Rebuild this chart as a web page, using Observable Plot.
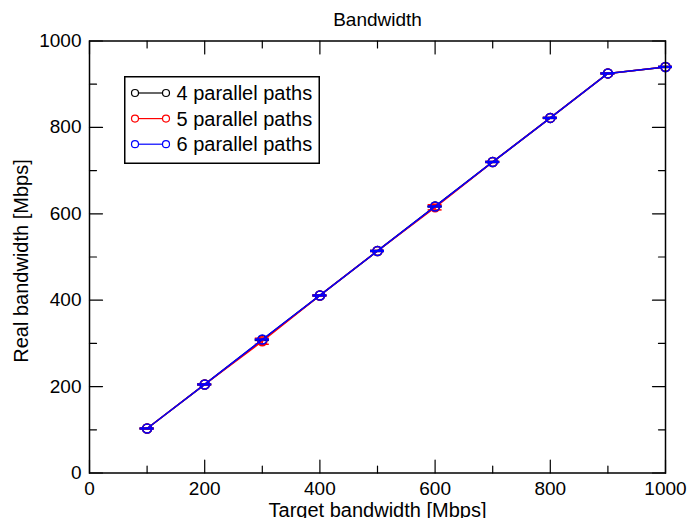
<!DOCTYPE html>
<html><head><meta charset="utf-8">
<script src="https://cdn.jsdelivr.net/npm/d3@7"></script>
<script src="https://cdn.jsdelivr.net/npm/@observablehq/plot@0.6"></script>
<style>
body{margin:0;background:#fff;}
#wrap{position:relative;width:690px;height:518px;overflow:hidden;font-family:"Liberation Sans",Arial,sans-serif;}
#legend{position:absolute;left:124px;top:76px;}
</style></head><body>
<div id="wrap"><div id="chart"></div><svg id="legend" width="196" height="88"></svg></div>
<script>
const targets = [100, 200, 300, 400, 500, 600, 700, 800, 900, 1000];
const seriesNames = ["4 parallel paths", "5 parallel paths", "6 parallel paths"];
const seriesColors = ["#000000", "#ff0000", "#0000ff"];
const real4 = [103, 205, 308, 411, 514, 617, 720, 822, 925, 940];
const err4  = [1, 1, 1, 1, 1, 1, 1, 1, 1, 1];
const real5 = [103, 205, 305, 411, 514, 615, 720, 822, 925, 940];
const err5  = [1, 1, 7, 1, 1, 6, 1, 1, 1, 1];
const real6 = [103, 205, 309, 411, 514, 617, 720, 822, 925, 940];
const err6  = [1, 1, 1, 1, 1, 1, 1, 1, 1, 1];
const xMajor = [0, 200, 400, 600, 800, 1000];
const xMinor = [100, 300, 500, 700, 900];
const yMajor = [0, 200, 400, 600, 800, 1000];
const yMinor = [100, 300, 500, 700, 900];
const title = "Bandwidth";
const xLabel = "Target bandwidth [Mbps]";
const yLabel = "Real bandwidth [Mbps]";

const allReal = [real4, real5, real6];
const allErr = [err4, err5, err6];
const data = seriesNames.map((s, k) => targets.map((x, i) => ({series: s, color: seriesColors[k], x, y: allReal[k][i], e: allErr[k][i]})));

const tickShape = {draw(ctx, l) { ctx.moveTo(0, 0); ctx.lineTo(0, -l); }};
function ticks(arr, axis, anchor, rot, len) {
  const o = {frameAnchor: anchor, rotate: rot, length: len, anchor: "start", shape: tickShape, stroke: "#000", strokeWidth: 1.2};
  if (axis === "x") o.x = d => d; else o.y = d => d;
  return Plot.vector(arr, o);
}

const marks = [];
data.forEach(ser => {
  const c = ser[0].color;
  marks.push(Plot.line(ser, {x: "x", y: "y", stroke: c, strokeWidth: 1.5}));
  marks.push(Plot.ruleX(ser, {x: "x", y1: d => d.y - d.e, y2: d => d.y + d.e, stroke: c, strokeWidth: 1.5}));
  marks.push(Plot.ruleY(ser, {y: d => d.y - d.e, x1: "x", x2: "x", insetLeft: -7, insetRight: -7, stroke: c, strokeWidth: 1.5}));
  marks.push(Plot.ruleY(ser, {y: d => d.y + d.e, x1: "x", x2: "x", insetLeft: -7, insetRight: -7, stroke: c, strokeWidth: 1.5}));
  marks.push(Plot.dot(ser, {x: "x", y: "y", r: 4.5, stroke: c, strokeWidth: 1.5, fill: "none"}));
});

const chart = Plot.plot({
  width: 690, height: 518,
  marginLeft: 89, marginRight: 25, marginTop: 40.5, marginBottom: 45.5,
  style: {fontFamily: "Liberation Sans, Arial, sans-serif", fontSize: "19px", color: "#000", background: "#fff"},
  x: {domain: [0, 1000]},
  y: {domain: [0, 1000]},
  marks: [
    ticks(xMajor, "x", "bottom", 0, 13), ticks(xMinor, "x", "bottom", 0, 7),
    ticks(xMajor, "x", "top", 180, 13), ticks(xMinor, "x", "top", 180, 7),
    ticks(yMajor, "y", "left", 90, 13), ticks(yMinor, "y", "left", 90, 7),
    ticks(yMajor, "y", "right", -90, 13), ticks(yMinor, "y", "right", -90, 7),
    Plot.axisX({ticks: xMajor, tickSize: 0, tickPadding: 8, label: null, tickFormat: d => String(d)}),
    Plot.axisY({ticks: yMajor, tickSize: 0, tickPadding: 8, label: null, tickFormat: d => String(d)}),
    ...marks,
    Plot.frame({stroke: "#000", strokeWidth: 1.5}),
    Plot.text([title], {frameAnchor: "top", text: d => d, textAnchor: "middle", lineAnchor: "bottom", dy: -15.5, fontSize: 19}),
    Plot.text([xLabel], {frameAnchor: "bottom", text: d => d, textAnchor: "middle", lineAnchor: "bottom", dy: 44, fontSize: 20}),
    Plot.text([yLabel], {frameAnchor: "left", text: d => d, textAnchor: "middle", lineAnchor: "bottom", rotate: -90, dx: -62, dy: 4, fontSize: 20})
  ]
});
document.getElementById("chart").appendChild(chart);

const lg = d3.select("#legend");
lg.append("rect").attr("x", 0.75).attr("y", 0.75).attr("width", 194.5).attr("height", 86.5)
  .attr("fill", "#fff").attr("stroke", "#000").attr("stroke-width", 1.5);
seriesNames.forEach((s, k) => {
  const cy = 17 + k * 25.6;
  const g = lg.append("g").attr("stroke", seriesColors[k]).attr("fill", "none");
  g.append("line").attr("x1", 11).attr("x2", 42).attr("y1", cy).attr("y2", cy).attr("stroke-width", 1.2);
  g.append("circle").attr("cx", 11).attr("cy", cy).attr("r", 3.5).attr("fill", "#fff").attr("stroke-width", 1.2);
  g.append("circle").attr("cx", 42).attr("cy", cy).attr("r", 3.5).attr("fill", "#fff").attr("stroke-width", 1.2);
  lg.append("text").attr("x", 52.5).attr("y", cy + 7).attr("font-size", 20)
    .attr("font-family", "Liberation Sans, Arial, sans-serif").attr("fill", "#000").text(s);
});
</script>
</body></html>
